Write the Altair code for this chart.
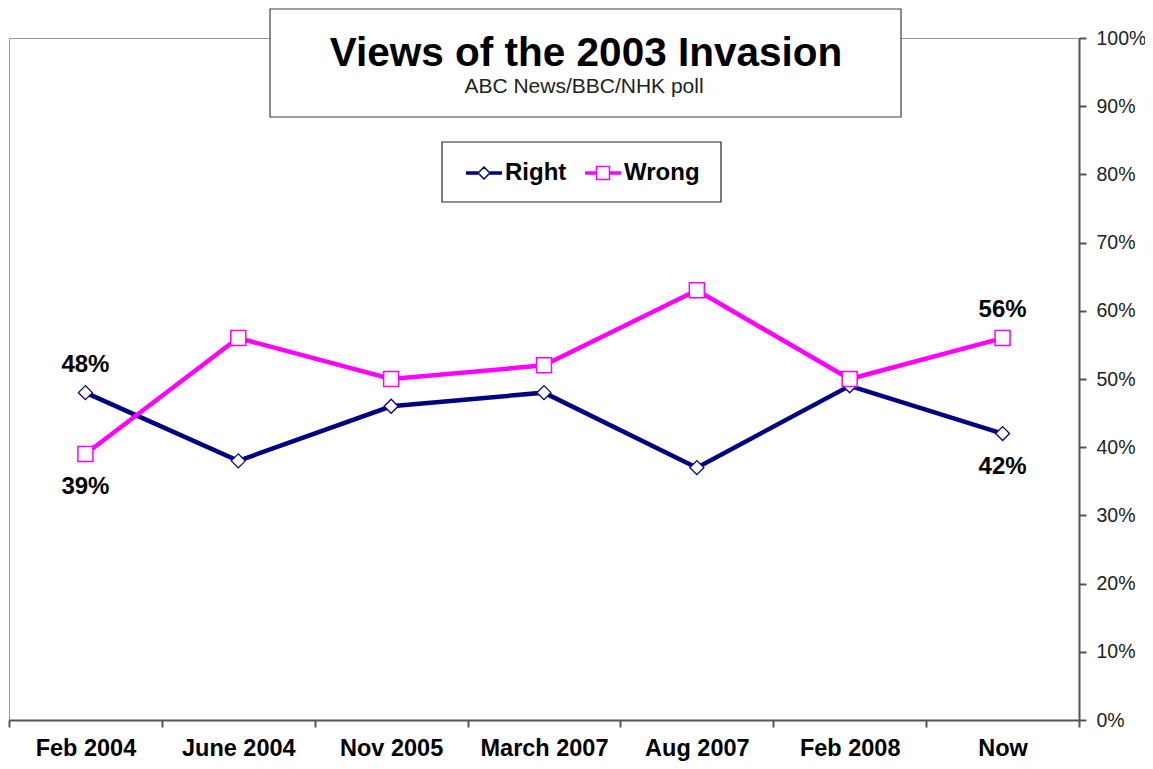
import altair as alt
import pandas as pd

FONT = "Liberation Sans, Arial, sans-serif"

categories = ["Feb 2004", "June 2004", "Nov 2005", "March 2007", "Aug 2007", "Feb 2008", "Now"]
series_names = ["Right", "Wrong"]
series_colors = ["#000080", "#FF00FF"]
right_values = [48, 38, 46, 48, 37, 49, 42]
wrong_values = [39, 56, 50, 52, 63, 50, 56]
y_ticks = [0, 10, 20, 30, 40, 50, 60, 70, 80, 90, 100]
title_text = "Views of the 2003 Invasion"
subtitle_text = "ABC News/BBC/NHK poll"

rows = []
for s, vals in zip(series_names, [right_values, wrong_values]):
    for c, v in zip(categories, vals):
        rows.append({"cat": c, "series": s, "value": v})
df = pd.DataFrame(rows)

# end-point annotations: higher value labelled above, lower labelled below
ann = []
for idx in [0, len(categories) - 1]:
    r, w = right_values[idx], wrong_values[idx]
    for s, v, other in [("Right", r, w), ("Wrong", w, r)]:
        ann.append({"cat": categories[idx], "series": s, "value": v,
                    "label": f"{v}%", "pos": "above" if v >= other else "below"})
ann_df = pd.DataFrame(ann)

x_enc = alt.X("cat:N", sort=categories,
              scale=alt.Scale(type="band", paddingInner=0, paddingOuter=0),
              axis=alt.Axis(title=None, labelAngle=0, tickBand="extent", tickSize=7,
                            labelPadding=28, labelBaseline="alphabetic",
                            labelFont=FONT, labelFontSize=23.5,
                            labelFontWeight="bold", labelColor="black",
                            domainColor="#555", domainWidth=2, tickColor="#555",
                            tickWidth=2))
y_enc = alt.Y("value:Q", scale=alt.Scale(domain=[0, 100]),
              axis=alt.Axis(title=None, orient="right", values=y_ticks, grid=False,
                            labelExpr="datum.value + '%'", tickSize=7, labelPadding=10,
                            labelFont=FONT, labelFontSize=19.5, labelColor="#222",
                            domainColor="#555", domainWidth=2, tickColor="#555",
                            tickWidth=2))

right_path = ("M-1,-0.06H-0.33M-1,0H-0.33M-1,0.06H-0.33"
              "M0.33,-0.06H1M0.33,0H1M0.33,0.06H1"
              "M-0.33,0L0,-0.33L0.33,0L0,0.33Z")
wrong_path = ("M-1,-0.06H-0.36M-1,0H-0.36M-1,0.06H-0.36"
              "M0.36,-0.06H1M0.36,0H1M0.36,0.06H1"
              "M-0.36,-0.36H0.36V0.36H-0.36Z")

legend = alt.Legend(orient="none", legendX=456, legendY=116, direction="horizontal",
                    title=None, padding=0, labelFont=FONT, labelFontSize=24,
                    labelFontWeight="bold", labelColor="black", symbolSize=1296,
                    symbolStrokeWidth=1.5, symbolFillColor="white", labelOffset=2,
                    columnPadding=15,
                    symbolType=alt.ExprRef(
                        expr=f"datum.value == 'Right' ? '{right_path}' : '{wrong_path}'"))

base = alt.Chart(df)

lines = base.mark_line(strokeWidth=4.5).encode(
    x=x_enc, y=y_enc,
    color=alt.Color("series:N", scale=alt.Scale(domain=series_names, range=series_colors),
                    legend=legend),
)

right_pts = base.transform_filter(alt.datum.series == "Right").mark_point(
    shape="diamond", size=196, filled=True, fill="white", stroke=series_colors[0],
    strokeWidth=1.3, opacity=1).encode(x=alt.X("cat:N", sort=categories), y="value:Q")

wrong_pts = base.transform_filter(alt.datum.series == "Wrong").mark_point(
    shape="square", size=225, filled=True, fill="white", stroke=series_colors[1],
    strokeWidth=1.5, opacity=1).encode(x=alt.X("cat:N", sort=categories), y="value:Q")

ann_base = alt.Chart(ann_df)
ann_above = ann_base.transform_filter(alt.datum.pos == "above").mark_text(
    font=FONT, fontSize=24, fontWeight="bold", color="black", dy=-28, baseline="middle"
).encode(x=alt.X("cat:N", sort=categories), y="value:Q", text="label:N")
ann_below = ann_base.transform_filter(alt.datum.pos == "below").mark_text(
    font=FONT, fontSize=24, fontWeight="bold", color="black", dy=33, baseline="middle"
).encode(x=alt.X("cat:N", sort=categories), y="value:Q", text="label:N")

one = pd.DataFrame({"t": [title_text], "s": [subtitle_text]})
title_box = alt.Chart(one).mark_rect(fill="white", stroke="#404040", strokeWidth=1.2).encode(
    x=alt.value(261), x2=alt.value(892), y=alt.value(-29), y2=alt.value(79))
title = alt.Chart(one).mark_text(font=FONT, fontSize=40.5, fontWeight="bold", color="black",
                                 align="center", baseline="alphabetic").encode(
    x=alt.value(577), y=alt.value(28), text="t:N")
subtitle = alt.Chart(one).mark_text(font=FONT, fontSize=21, color="#222",
                                    align="center", baseline="alphabetic").encode(
    x=alt.value(575), y=alt.value(55), text="s:N")
legend_box = alt.Chart(one).mark_rect(fill="white", stroke="#222", strokeWidth=1.2).encode(
    x=alt.value(433), x2=alt.value(712), y=alt.value(104), y2=alt.value(164))

chart = alt.layer(
    title_box, title, subtitle, legend_box,
    lines, right_pts, wrong_pts, ann_above, ann_below
).properties(
    width=1070, height=682,
    padding={"left": 1, "top": 30, "right": 66, "bottom": 41},
    autosize=alt.AutoSizeParams(type="none"),
    background="white",
).configure_view(stroke="#999", strokeWidth=1)

chart.save("out.html", embed_options={"renderer": "svg", "actions": False})
